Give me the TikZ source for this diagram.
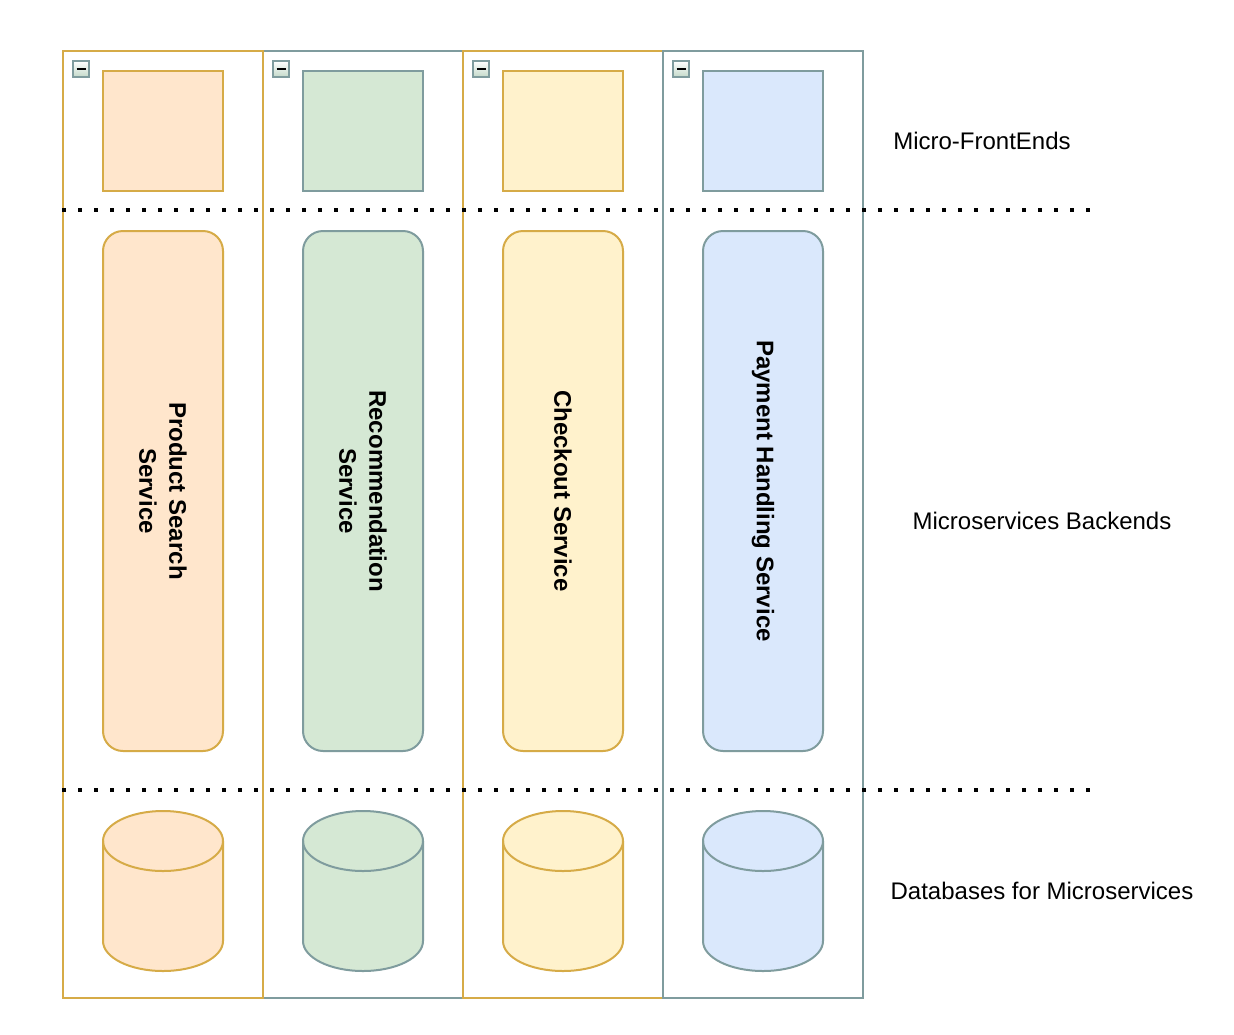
\documentclass[tikz,border=0pt]{standalone}
\usepackage{fontspec}
\setmainfont{Liberation Sans}
\usepackage[HTML]{xcolor}
\usetikzlibrary{positioning}

\definecolor{laneGold}{HTML}{D6AB47}
\definecolor{laneGray}{HTML}{7F9C9E}
\definecolor{fillOrange}{HTML}{FFE6CC}
\definecolor{fillGreen}{HTML}{D5E8D4}
\definecolor{fillYellow}{HTML}{FFF2CC}
\definecolor{fillBlue}{HTML}{DAE8FC}

\begin{document}
\begin{tikzpicture}[x=1pt, y=-1pt,
    font=\fontsize{24}{30}\selectfont,
    lane/.style={draw, line width=2pt, minimum width=200pt, minimum height=947pt, inner sep=0pt, outer sep=0pt},
    frontbox/.style={draw, line width=2pt, minimum width=120pt, minimum height=120pt, inner sep=0pt},
    servicebox/.style={draw, line width=2pt, rotate=-90, rounded corners=20pt, minimum width=520pt, minimum height=120pt, inner sep=0pt, align=center, font=\fontsize{24}{30}\selectfont\bfseries},
    dbspot/.style={minimum width=120pt, minimum height=160pt, inner sep=0pt, outer sep=0pt},
    dbline/.style={line width=2pt},
    collapsebox/.style={draw=laneGray, line width=2.5pt, minimum size=16pt, inner sep=0pt, top color=white, bottom color=fillGreen!80!laneGray,
        path picture={\draw[line width=2pt, black] ([xshift=3.5pt]path picture bounding box.west) -- ([xshift=-3.5pt]path picture bounding box.east);}},
    dotline/.style={line width=4pt, dash pattern=on 4pt off 12pt},
    layer/.style={font=\fontsize{24}{30}\selectfont}
  ]

    % 0. Page
    \useasboundingbox[fill=white] (0,0) rectangle (1234,1034);

    % 1. Lanes (gray ones under the gold ones on the left)
    \node (laneB) [lane, draw=laneGray] at (363,524.5) {};
    \node (laneA) [lane, draw=laneGold] at (163,524.5) {};
    \node (laneC) [lane, draw=laneGold] at (563,524.5) {};
    \node (laneD) [lane, draw=laneGray] at (763,524.5) {};

    % collapse icons
    \node (iconA) [collapsebox] at (81,69) {};
    \node (iconB) [collapsebox] at (281,69) {};
    \node (iconC) [collapsebox] at (481,69) {};
    \node (iconD) [collapsebox] at (681,69) {};

    % 2. Micro-frontends
    \node (feA) [frontbox, draw=laneGold, fill=fillOrange] at (163,131) {};
    \node (feB) [frontbox, draw=laneGray, fill=fillGreen] at (363,131) {};
    \node (feC) [frontbox, draw=laneGold, fill=fillYellow] at (563,131) {};
    \node (feD) [frontbox, draw=laneGray, fill=fillBlue] at (763,131) {};

    % 3. Backend services
    \node (svcA) [servicebox, draw=laneGold, fill=fillOrange] at (163,491) {Product Search\\Service};
    \node (svcB) [servicebox, draw=laneGray, fill=fillGreen] at (363,491) {Recommendation\\Service};
    \node (svcC) [servicebox, draw=laneGold, fill=fillYellow] at (563,491) {Checkout Service};
    \node (svcD) [servicebox, draw=laneGray, fill=fillBlue] at (763,491) {Payment Handling Service};

    % 4. Databases (cylinders drawn on the node corners)
    \node (dbA) [dbspot] at (163,891) {};
    \node (dbB) [dbspot] at (363,891) {};
    \node (dbC) [dbspot] at (563,891) {};
    \node (dbD) [dbspot] at (763,891) {};
    \foreach \db/\edge/\body in {dbA/laneGold/fillOrange, dbB/laneGray/fillGreen, dbC/laneGold/fillYellow, dbD/laneGray/fillBlue} {
        \draw[dbline, draw=\edge, fill=\body] ([yshift=-30pt]\db.north west)
            arc[start angle=180, end angle=0, x radius=60pt, y radius=30pt]
            -- ([yshift=30pt]\db.south east)
            arc[start angle=0, end angle=-180, x radius=60pt, y radius=30pt] -- cycle;
        \draw[dbline, draw=\edge] ([yshift=-30pt]\db.north west)
            arc[start angle=180, end angle=360, x radius=60pt, y radius=30pt];
    }

    % 5. Layer separators
    \coordinate (sepTopL) at (62,210);
    \coordinate (sepTopR) at (1092,210);
    \coordinate (sepBotL) at (62,790);
    \coordinate (sepBotR) at (1092,790);
    \draw[dotline] (sepTopL) -- (sepTopR);
    \draw[dotline] (sepBotL) -- (sepBotR);

    % 6. Layer names
    \node (nameFE) [layer] at (982,141) {Micro-FrontEnds};
    \node (nameMS) [layer] at (1042,521) {Microservices Backends};
    \node (nameDB) [layer] at (1042,891) {Databases for Microservices};

\end{tikzpicture}
\end{document}
